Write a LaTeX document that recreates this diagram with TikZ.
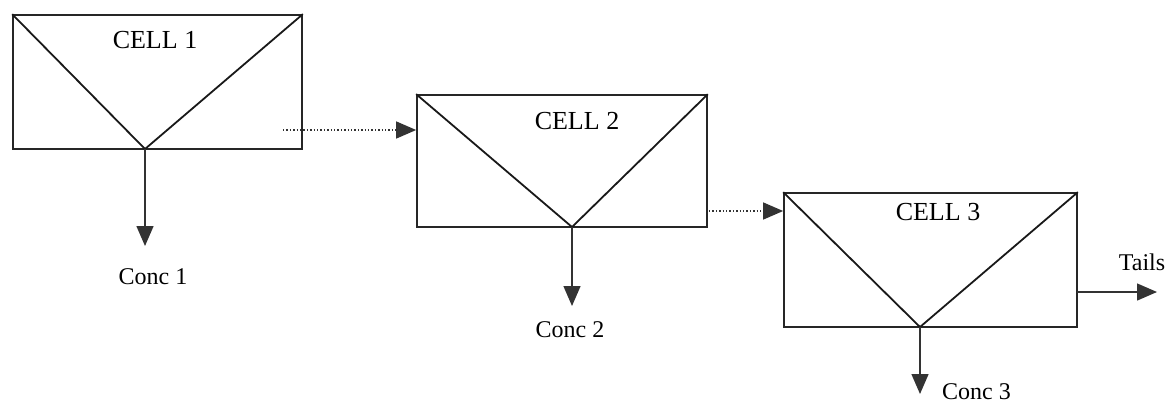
\documentclass[tikz,border=0pt]{standalone}
\usepackage{fontspec}
\setmainfont{Liberation Serif}
\usetikzlibrary{arrows.meta,calc}
\begin{document}
\begin{tikzpicture}[x=1pt,y=-1pt,
  cellbox/.style={draw=black!85,line width=1.7pt,inner sep=0pt},
  vline/.style={draw=black!90,line width=1.8pt},
  flow/.style={draw=black!80,line width=1.4pt,-{Triangle[length=20pt,width=17pt]}},
  dotflow/.style={flow,dotted},
  lbl/.style={font=\fontsize{24}{28}\selectfont,inner sep=0pt},
  title/.style={font=\fontsize{26}{30}\selectfont,inner sep=0pt}]
\useasboundingbox (0,0) rectangle (1170,405);
% cells
\node[cellbox,minimum width=289pt,minimum height=134pt] (c1) at (157.5,82) {};
\node[cellbox,minimum width=290pt,minimum height=132pt] (c2) at (562,161) {};
\node[cellbox,minimum width=293pt,minimum height=134pt] (c3) at (930.5,260) {};
% vertices
\coordinate (v1) at (145,149);
\coordinate (v2) at (572,227);
\coordinate (v3) at (920,327);
\draw[vline] (c1.north west) -- (v1) -- (c1.north east);
\draw[vline] (c2.north west) -- (v2) -- (c2.north east);
\draw[vline] (c3.north west) -- (v3) -- (c3.north east);
% titles
\node[title] (t1) at (155,40) {CELL 1};
\node[title] (t2) at (577,121) {CELL 2};
\node[title] (t3) at (938,212) {CELL 3};
% outputs
\coordinate (o1) at (145,246);
\coordinate (o2) at (572,306);
\coordinate (o3) at (920,394);
\draw[flow] (v1) -- (o1);
\draw[flow] (v2) -- (o2);
\draw[flow] (v3) -- (o3);
\node[lbl] (k1) at (153,277) {Conc 1};
\node[lbl] (k2) at (570,330) {Conc 2};
\node[lbl,anchor=west] (k3) at (942,392) {Conc 3};
% transfers
\coordinate (s12) at (283,130);
\draw[dotflow] (s12) -- (s12 -| c2.west);
\coordinate (s23) at (709,211);
\draw[dotflow] (s23) -- (s23 -| c3.west);
\coordinate (s3t) at (1077,292);
\coordinate (tend) at (1157,292);
\draw[flow] (s3t) -- (tend);
\node[lbl] (tl) at (1142,262) {Tails};
\end{tikzpicture}
\end{document}
